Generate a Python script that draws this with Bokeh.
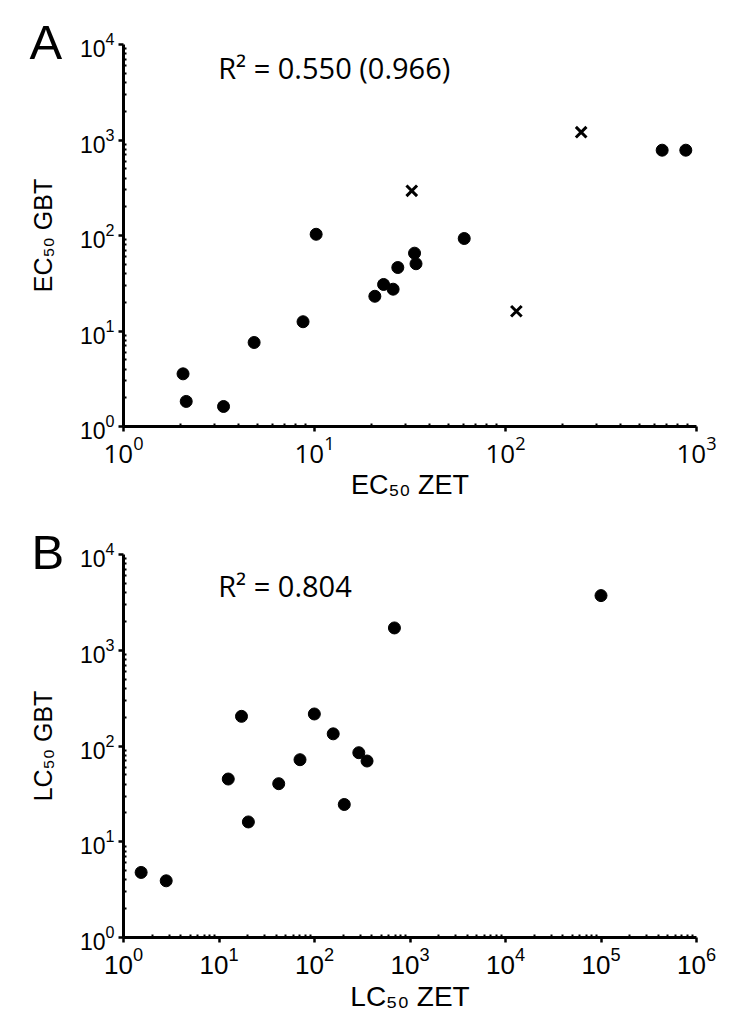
from bokeh.plotting import figure
from bokeh.models import FixedTicker, Label, Title
from bokeh.layouts import column
from bokeh.embed import file_html
from bokeh.resources import INLINE

# ---- Panel A data (EC50) ----
ec50_zet_dots = [2.05, 2.13, 3.34, 4.83, 8.71, 10.2, 20.7, 23.0, 25.8, 27.3, 33.4, 34.0, 60.8, 661, 879]
ec50_gbt_dots = [3.56, 1.83, 1.62, 7.58, 12.5, 103, 23.1, 30.7, 27.4, 46.2, 65.3, 50.6, 93, 782, 782]
ec50_zet_cross = [32.3, 249, 114]
ec50_gbt_cross = [294, 1207, 16.1]

# ---- Panel B data (LC50) ----
lc50_zet = [1.53, 2.80, 12.5, 17.2, 20.3, 42.2, 70.5, 99.6, 157, 205, 291, 355, 687, 1.0e5]
lc50_gbt = [4.78, 3.91, 45.2, 204, 16.1, 40.4, 71.9, 216, 134, 24.5, 85.1, 69.7, 1710, 3720]

# ---- texts / ticks ----
panel_a = "A"
panel_b = "B"
r2_a = "R\u00b2 = 0.550 (0.966)"
r2_b = "R\u00b2 = 0.804"
xlab_a = "EC\u2085\u2080 ZET"
ylab_a = "EC\u2085\u2080 GBT"
xlab_b = "LC\u2085\u2080 ZET"
ylab_b = "LC\u2085\u2080 GBT"
y_decades = [1, 10, 100, 1000, 10000]
x_decades_a = [1, 10, 100, 1000]
x_decades_b = [1, 10, 100, 1000, 1e4, 1e5, 1e6]

ARIAL = "Liberation Sans"


def minors(decades):
    out = []
    for d in decades[:-1]:
        out += [m * d for m in range(2, 10)]
    return out


def style_axis(ax, majors, label, tick_size, label_size, tick_font=ARIAL, standoff=6):
    ax.ticker = FixedTicker(ticks=majors, minor_ticks=minors(majors))
    ax.axis_line_width = 3
    ax.axis_line_color = "black"
    ax.major_tick_line_width = 2.5
    ax.major_tick_line_color = "black"
    ax.minor_tick_line_width = 2
    ax.minor_tick_line_color = "black"
    ax.major_tick_out = 5
    ax.major_tick_in = 0
    ax.minor_tick_out = 0
    ax.minor_tick_in = 3
    ax.major_label_text_font = tick_font
    ax.major_label_text_font_size = tick_size
    ax.major_label_text_color = "black"
    ax.major_label_standoff = 4
    ax.axis_label = label
    ax.axis_label_text_font = ARIAL
    ax.axis_label_text_font_size = label_size
    ax.axis_label_text_font_style = "normal"
    ax.axis_label_text_color = "black"
    ax.axis_label_standoff = standoff


def make_fig(height, top, bottom, x_end, letter, letter_offset, letter_standoff):
    title = Title(text=letter, align="left", offset=letter_offset, standoff=letter_standoff,
                  text_font=ARIAL, text_font_size="49px", text_font_style="normal",
                  text_color="black", vertical_align="bottom")
    p = figure(width=738, height=height, x_axis_type="log", y_axis_type="log",
               x_range=(1, x_end), y_range=(1, 10000), title=title,
               output_backend="svg", toolbar_location=None,
               min_border_left=123, min_border_right=42,
               min_border_top=top, min_border_bottom=bottom)
    p.outline_line_color = None
    p.xgrid.visible = False
    p.ygrid.visible = False
    p.background_fill_color = "white"
    p.border_fill_color = "white"
    return p


# ---------------- Panel A ----------------
pa = make_fig(508, 44, 82, 1000, panel_a, -94, -49)
style_axis(pa.xaxis[0], x_decades_a, xlab_a, "26px", "27px", tick_font="Open Sans", standoff=4)
style_axis(pa.yaxis[0], y_decades, ylab_a, "23px", "25px", standoff=20)
pa.scatter(ec50_zet_dots, ec50_gbt_dots, marker="circle", size=12,
           fill_color="black", line_color="black")
pa.scatter(ec50_zet_cross, ec50_gbt_cross, marker="x", size=15,
           line_color="black", line_width=3)
pa.add_layout(Label(x=3.13, y=5785, text=r2_a, text_font="Open Sans", text_font_size="29px",
                    text_baseline="alphabetic", text_color="black"))

# ---------------- Panel B ----------------
pb = make_fig(528, 46, 99, 1e6, panel_b, -92, -49)
style_axis(pb.xaxis[0], x_decades_b, xlab_b, "26px", "28px", standoff=4)
style_axis(pb.yaxis[0], y_decades, ylab_b, "23px", "25px", standoff=20)
pb.scatter(lc50_zet, lc50_gbt, marker="circle", size=12,
           fill_color="black", line_color="black")
pb.add_layout(Label(x=9.81, y=4730, text=r2_b, text_font="Open Sans", text_font_size="29px",
                    text_baseline="alphabetic", text_color="black"))

layout = column(pa, pb, spacing=0)
open("out.html", "w").write(file_html(layout, INLINE))
